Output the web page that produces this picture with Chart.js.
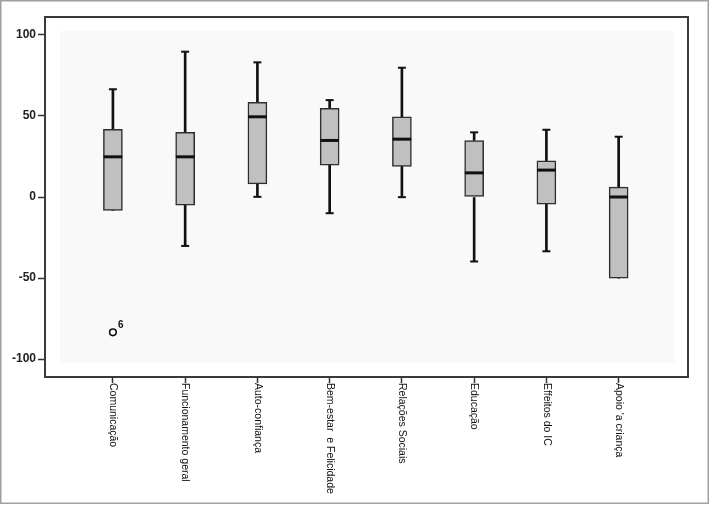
<!DOCTYPE html>
<html>
<head>
<meta charset="utf-8">
<script src="https://cdn.jsdelivr.net/npm/chart.js@4.4.1/dist/chart.umd.min.js"></script>
<style>
  html, body { margin: 0; padding: 0; background: #fff; }
  canvas { display: block; }
</style>
</head>
<body>
<canvas id="c" width="709" height="505"></canvas>
<script>
// ---- data ----
const categories = ["Comunicação", "Funcionamento geral", "Auto-confiança", "Bem-estar  e Felicidade",
                    "Relações Sociais", "Educação", "Effeitos do IC", "Apoio 'a criança"];
const whiskerMin = [-8.3, -30.2, 0.1, -10.0, -0.1, -39.8, -33.5, -50.1];
const q1         = [-8.3,  -5.0, 8.1,  19.7, 18.9,   0.0,  -4.4, -50.1];
const median     = [24.8,  24.8, 49.5, 34.9, 35.7,  14.9,  16.6,   0.0];
const q3         = [41.7,  39.9, 58.4, 54.7, 49.5,  34.9,  22.4,   6.1];
const whiskerMax = [66.5,  89.7, 83.1, 59.8, 79.8,  39.9,  41.5,  37.2];
const outlierCategory = [0];
const outlierValue    = [-83.5];
const outlierLabel    = ["6"];
const yTickValues = [-100, -50, 0, 50, 100];

const idx = categories.map((_, i) => i);

const boxData = idx.map(i => ({ x: i, y: [q1[i], q3[i]] }));
const lowWhisker = idx.map(i => ({ x: i, y: [whiskerMin[i], q1[i]] }));
const highWhisker = idx.map(i => ({ x: i, y: [q3[i], whiskerMax[i]] }));
const medData = idx.map(i => ({ x: i, y: median[i] }));
const capData = [];
idx.forEach(i => {
  capData.push({ x: i, y: whiskerMax[i] });
  if (whiskerMin[i] !== q1[i]) capData.push({ x: i, y: whiskerMin[i] });
});
const outData = outlierCategory.map((c, k) => ({ x: c, y: outlierValue[k] }));

const FONT = "'Liberation Sans', Arial, sans-serif";

const decor = {
  id: 'decor',
  beforeDraw(chart) {
    const { ctx, chartArea: a } = chart;
    ctx.save();
    ctx.fillStyle = '#ffffff';
    ctx.fillRect(0, 0, chart.width, chart.height);
    ctx.fillStyle = '#f9f9f9';
    ctx.fillRect(a.left + 15, a.top + 14, a.right - a.left - 29, a.bottom - a.top - 28);
    ctx.restore();
  },
  afterDraw(chart) {
    const { ctx, chartArea: a, scales } = chart;
    ctx.save();
    // plot frame
    ctx.strokeStyle = '#3a3a3a';
    ctx.lineWidth = 2;
    ctx.strokeRect(a.left, a.top, a.right - a.left, a.bottom - a.top);
    // outer border
    ctx.strokeStyle = '#a0a0a0';
    ctx.lineWidth = 1.5;
    ctx.strokeRect(0.75, 0.75, 707.5, 502.5);
    // rotated category labels
    ctx.fillStyle = '#111';
    ctx.font = '10.5px ' + FONT;
    ctx.textAlign = 'left';
    ctx.textBaseline = 'middle';
    categories.forEach((lab, i) => {
      const x = scales.x.getPixelForValue(i);
      ctx.save();
      ctx.translate(x, a.bottom + 6);
      ctx.rotate(Math.PI / 2);
      ctx.fillText(lab, 0, 0);
      ctx.restore();
    });
    // outlier labels
    ctx.font = 'bold 10px ' + FONT;
    ctx.textAlign = 'left';
    ctx.textBaseline = 'alphabetic';
    outData.forEach((p, k) => {
      const x = scales.x.getPixelForValue(p.x);
      const y = scales.y.getPixelForValue(p.y);
      ctx.fillText(outlierLabel[k], x + 5, y - 4);
    });
    ctx.restore();
  }
};

new Chart(document.getElementById('c'), {
  type: 'bar',
  data: {
    datasets: [
      { type: 'bar', data: lowWhisker, backgroundColor: '#111', borderWidth: 0, barThickness: 2, grouped: false, order: 3 },
      { type: 'bar', data: highWhisker, backgroundColor: '#111', borderWidth: 0, barThickness: 2, grouped: false, order: 3 },
      { type: 'bar', data: boxData, backgroundColor: '#c0c0c0', borderColor: '#2e2e2e', borderWidth: 1.5,
        borderSkipped: false, barThickness: 19, grouped: false, order: 2 },
      { type: 'scatter', data: medData, pointStyle: 'line', radius: 9.3, borderWidth: 3, borderColor: '#111', order: 1 },
      { type: 'scatter', data: capData, pointStyle: 'line', radius: 4, borderWidth: 2, borderColor: '#111', order: 1 },
      { type: 'scatter', data: outData, pointStyle: 'circle', radius: 3.3, borderWidth: 1.6,
        borderColor: '#111', backgroundColor: '#fff', order: 0 }
    ]
  },
  options: {
    responsive: false,
    animation: false,
    events: [],
    layout: { padding: { top: 17, right: 21, bottom: 0, left: 0 } },
    plugins: { legend: { display: false }, tooltip: { enabled: false } },
    scales: {
      x: {
        type: 'linear',
        offset: false,
        min: -0.94,
        max: 7.96,
        afterBuildTicks: s => { s.ticks = idx.map(i => ({ value: i })); },
        afterFit: s => { s.height = 128; },
        ticks: { display: false },
        grid: { offset: false, drawOnChartArea: false, drawTicks: true, tickLength: 6, color: '#333', tickWidth: 1.5 },
        border: { display: true, color: '#3a3a3a', width: 2 }
      },
      y: {
        type: 'linear',
        min: -111.1,
        max: 111.1,
        afterBuildTicks: s => { s.ticks = yTickValues.map(v => ({ value: v })); },
        afterFit: s => { s.width = 45; },
        ticks: { color: '#222', padding: 2, font: { family: FONT, size: 12, weight: 'bold' } },
        grid: { drawOnChartArea: false, drawTicks: true, tickLength: 7, color: '#333', tickWidth: 1.5 },
        border: { display: true, color: '#3a3a3a', width: 2 }
      }
    }
  },
  plugins: [decor]
});
</script>
</body>
</html>
